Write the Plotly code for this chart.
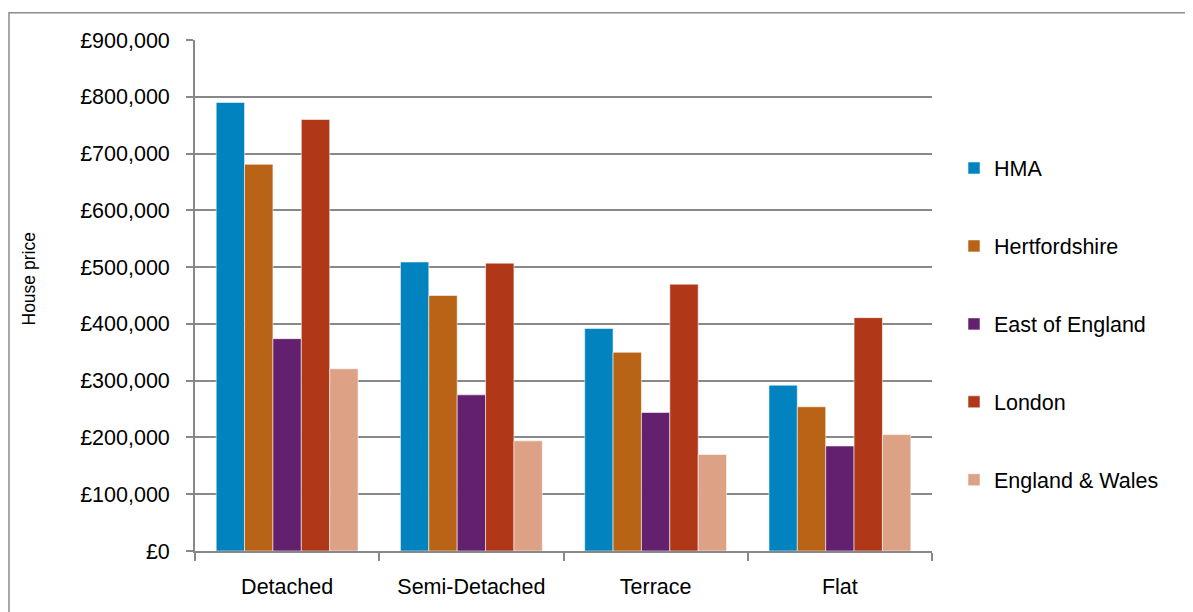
import plotly.graph_objects as go

categories = ["Detached", "Semi-Detached", "Terrace", "Flat"]
series_names = ["HMA", "Hertfordshire", "East of England", "London", "England & Wales"]
hma = [790000, 509000, 392000, 292000]
hertfordshire = [681000, 450000, 350000, 254000]
east_of_england = [374000, 275000, 244000, 185000]
london = [760000, 507000, 470000, 411000]
england_wales = [321000, 194000, 170000, 205000]
colors = ["#0083BF", "#B96317", "#63206E", "#B03819", "#DDA185"]
y_tick_values = [0, 100000, 200000, 300000, 400000, 500000, 600000, 700000, 800000, 900000]
y_tick_labels = ["\u00a3" + f"{v:,}" for v in y_tick_values]

series_values = [hma, hertfordshire, east_of_england, london, england_wales]

OFF = 8  # browser body margin
W, H = 1193 - OFF, 612 - OFF
# target page coordinates of the plot area
L, R, T, B = 195 - OFF, 932 - OFF, 40 - OFF, 551 - OFF
pw, ph = R - L, B - T

def px_x(x):
    return (x - OFF - L) / pw

def px_y(y):
    return (B - (y - OFF)) / ph

font_main = "Liberation Sans, Arial, sans-serif"
grid_col = "#888888"

fig = go.Figure()
for name, vals, col in zip(series_names, series_values, colors):
    fig.add_trace(go.Bar(
        x=categories, y=vals, name=name, legendgroup=name,
        marker=dict(color=col, line=dict(color="rgba(255,255,255,0.55)", width=1)),
    ))

fig.update_layout(
    width=W, height=H, autosize=False,
    margin=dict(l=L, r=W - R, t=T, b=H - B, pad=0),
    paper_bgcolor="white", plot_bgcolor="white",
    barmode="group", bargap=0.23, bargroupgap=0,
    font=dict(family=font_main, size=21.5, color="black"),
    showlegend=True,
    legend=dict(
        x=px_x(954), xanchor="left", y=px_y(147.5), yanchor="top",
        font=dict(size=21.5, family=font_main, color="black"),
        tracegroupgap=47, bgcolor="rgba(0,0,0,0)", borderwidth=0,
        traceorder="grouped",
    ),
    xaxis=dict(
        showline=True, linecolor=grid_col, linewidth=1.75,
        ticks="outside", tickson="boundaries", ticklen=8, tickwidth=1.75, tickcolor=grid_col,
        showgrid=False, ticklabelstandoff=15,
        tickfont=dict(size=21.5, family=font_main, color="black"),
    ),
    yaxis=dict(
        range=[0, 900000], tickmode="array", tickvals=y_tick_values, ticktext=y_tick_labels,
        showline=True, linecolor=grid_col, linewidth=1.75,
        showgrid=True, gridcolor=grid_col, gridwidth=1.75,
        ticks="outside", ticklen=7, tickwidth=1.75, tickcolor=grid_col,
        zeroline=False, ticklabelstandoff=12,
        tickfont=dict(size=21.5, family=font_main, color="black"),
    ),
    shapes=[dict(
        type="rect", xref="paper", yref="paper",
        x0=px_x(9), x1=px_x(1188), y0=px_y(640), y1=px_y(12.7),
        line=dict(color="#8c8c8c", width=1.5), fillcolor="rgba(0,0,0,0)", layer="below",
    )],
    annotations=[dict(
        text="House price", xref="paper", yref="paper",
        x=px_x(28.5), y=px_y(279), xanchor="center", yanchor="middle",
        textangle=-90, showarrow=False,
        font=dict(size=17.5, family=font_main, color="black"),
    )],
)

fig.write_html("out.html")
